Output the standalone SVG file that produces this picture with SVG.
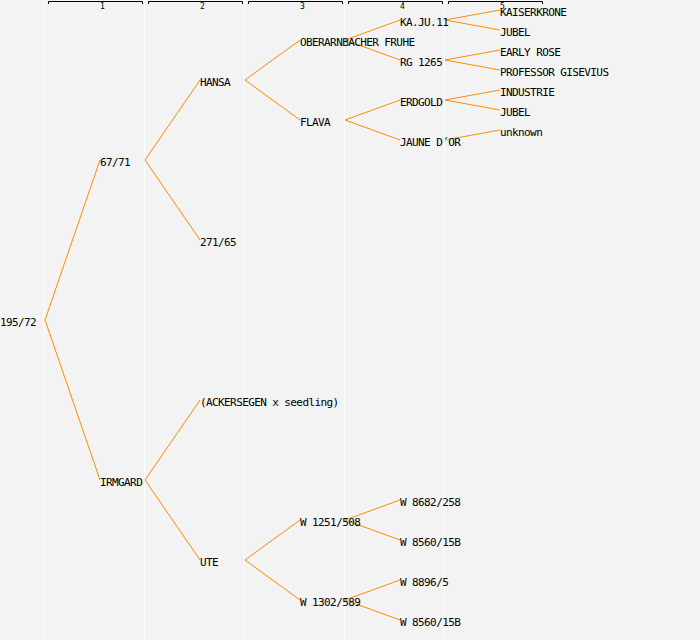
<svg xmlns="http://www.w3.org/2000/svg" width="700" height="640" viewBox="0 0 700 640">
<style>
.t{font-family:"DejaVu Sans Mono","Liberation Mono",monospace;font-size:11px;letter-spacing:-0.6px;fill:#000}
.h{font-family:"DejaVu Sans Mono","Liberation Mono",monospace;font-size:8px;fill:#000}
.c line,.c path{stroke:#ff8c00;stroke-width:1;fill:none}
.g{stroke:#fff;stroke-width:1}
.b{stroke:#000;stroke-width:1;fill:none}
</style>
<rect width="700" height="640" fill="#f3f3f3"/>
<g id="grid">
<line class="g" x1="44.5" y1="0" x2="44.5" y2="640"/>
<line class="g" x1="144.5" y1="0" x2="144.5" y2="640"/>
<line class="g" x1="244.5" y1="0" x2="244.5" y2="640"/>
<line class="g" x1="344.5" y1="0" x2="344.5" y2="640"/>
<line class="g" x1="444.5" y1="0" x2="444.5" y2="640"/>
</g>
<g id="header">
<path class="b" d="M48.5,4V1.5H142.5V4"/><text class="h" x="100" y="9">1</text>
<path class="b" d="M148.5,4V1.5H242.5V4"/><text class="h" x="200" y="9">2</text>
<path class="b" d="M248.5,4V1.5H342.5V4"/><text class="h" x="300" y="9">3</text>
<path class="b" d="M348.5,4V1.5H442.5V4"/><text class="h" x="400" y="9">4</text>
<path class="b" d="M448.5,4V1.5H542.5V4"/><text class="h" x="500" y="9">5</text>
</g>
<g class="c" id="connectors">
<path d="M100,160L45,320L100,480"/>
<path d="M200,80L145,160L200,240"/>
<path d="M200,400L145,480L200,560"/>
<path d="M300,40L245,80L300,120"/>
<path d="M300,520L245,560L300,600"/>
<path d="M400,20L345,40L400,60"/>
<path d="M400,100L345,120L400,140"/>
<path d="M400,500L345,520L400,540"/>
<path d="M400,580L345,600L400,620"/>
<path d="M500,10L445,20L500,30"/>
<path d="M500,50L445,60L500,70"/>
<path d="M500,90L445,100L500,110"/>
<path d="M445,140L500,130"/>
</g>
<g id="n_195_72"><text class="t" x="0" y="326">195/72</text></g>
<g id="n_67_71"><text class="t" x="100" y="166">67/71</text></g>
<g id="n_irmgard"><text class="t" x="100" y="486">IRMGARD</text></g>
<g id="n_hansa"><text class="t" x="200" y="86">HANSA</text></g>
<g id="n_271_65"><text class="t" x="200" y="246">271/65</text></g>
<g id="n_ackersegen"><text class="t" x="200" y="406">(ACKERSEGEN x seedling)</text></g>
<g id="n_ute"><text class="t" x="200" y="566">UTE</text></g>
<g id="n_oberarnbacher"><text class="t" x="300" y="46">OBERARNBACHER FRUHE</text></g>
<g id="n_flava"><text class="t" x="300" y="126">FLAVA</text></g>
<g id="n_w1251"><text class="t" x="300" y="526">W 1251/508</text></g>
<g id="n_w1302"><text class="t" x="300" y="606">W 1302/589</text></g>
<g id="n_kaju"><text class="t" x="400" y="26">KA.JU.11</text></g>
<g id="n_rg1265"><text class="t" x="400" y="66">RG 1265</text></g>
<g id="n_erdgold"><text class="t" x="400" y="106">ERDGOLD</text></g>
<g id="n_jaune"><text class="t" x="400" y="146">JAUNE D´OR</text></g>
<g id="n_w8682"><text class="t" x="400" y="506">W 8682/258</text></g>
<g id="n_w8560a"><text class="t" x="400" y="546">W 8560/15B</text></g>
<g id="n_w8896"><text class="t" x="400" y="586">W 8896/5</text></g>
<g id="n_w8560b"><text class="t" x="400" y="626">W 8560/15B</text></g>
<g id="n_kaiserkrone"><text class="t" x="500" y="16">KAISERKRONE</text></g>
<g id="n_jubel1"><text class="t" x="500" y="36">JUBEL</text></g>
<g id="n_earlyrose"><text class="t" x="500" y="56">EARLY ROSE</text></g>
<g id="n_gisevius"><text class="t" x="500" y="76">PROFESSOR GISEVIUS</text></g>
<g id="n_industrie"><text class="t" x="500" y="96">INDUSTRIE</text></g>
<g id="n_jubel2"><text class="t" x="500" y="116">JUBEL</text></g>
<g id="n_unknown"><text class="t" x="500" y="136">unknown</text></g>
</svg>
